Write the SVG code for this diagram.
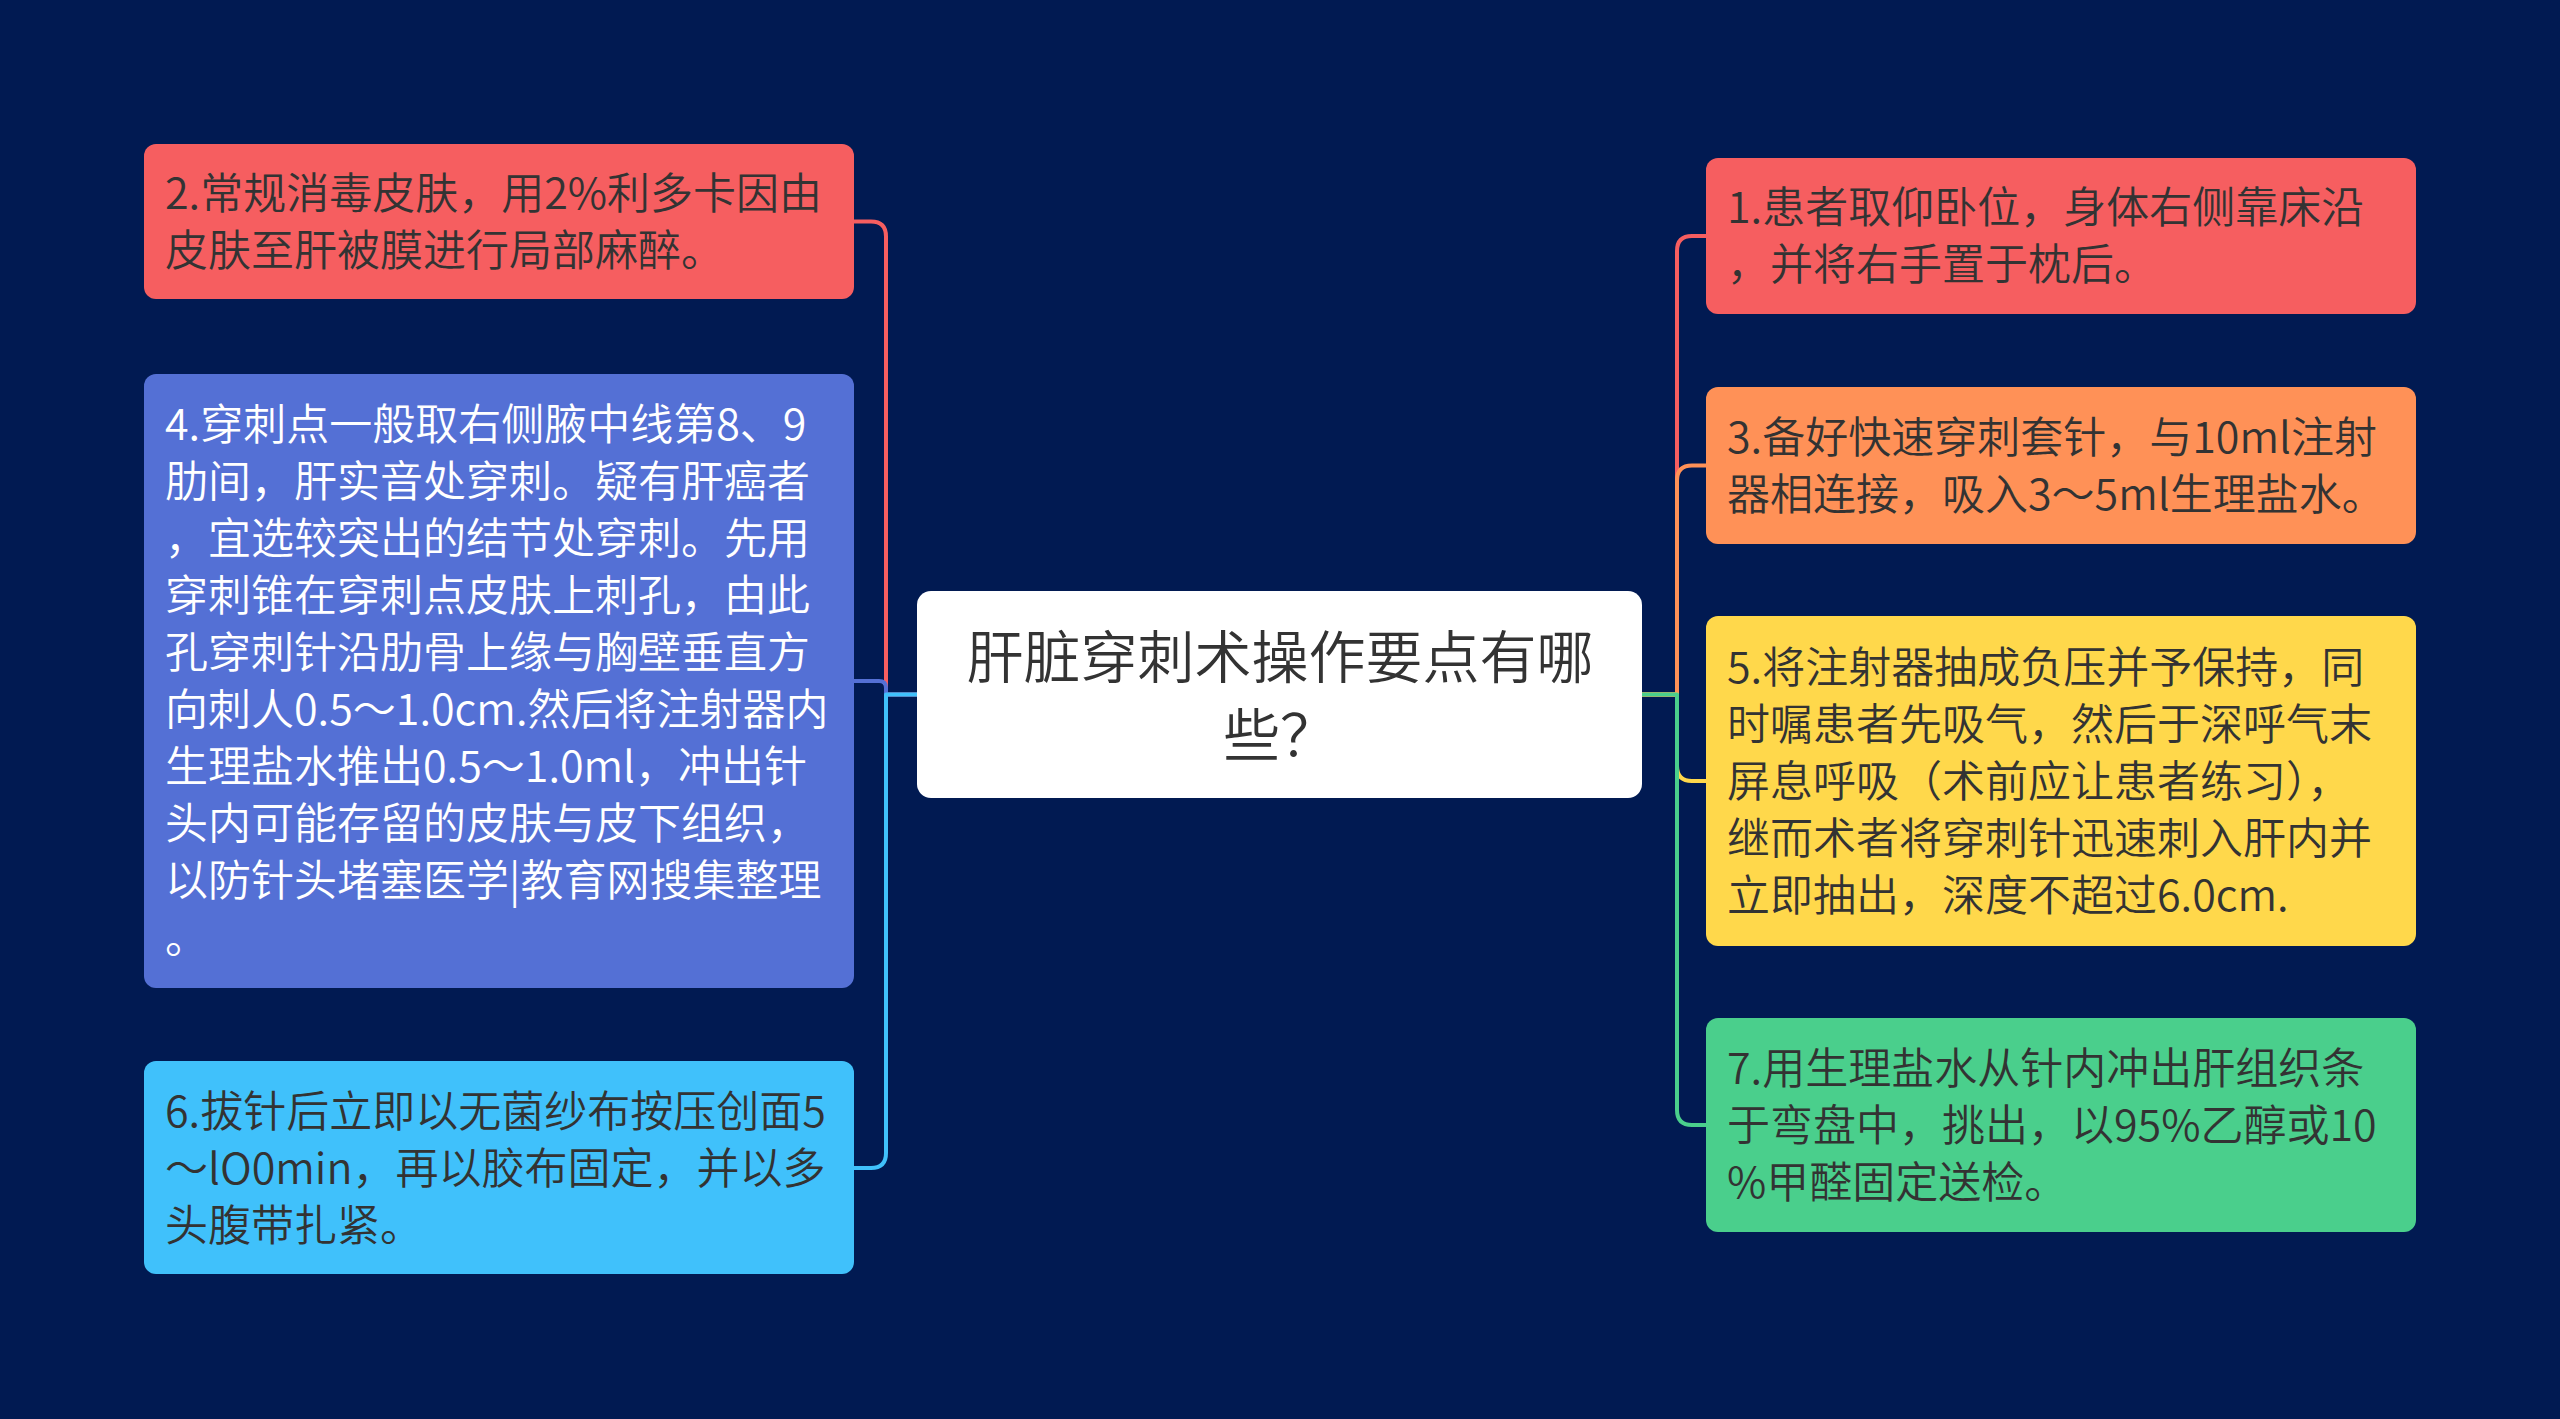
<svg xmlns="http://www.w3.org/2000/svg" width="2560" height="1419" viewBox="0 0 2560 1419">
<style>
.t{font-family:"Noto Sans CJK SC","Noto Sans",sans-serif;font-size:43px;font-weight:350;fill:#333333}
.w{fill:#ffffff}
.c{font-family:"Noto Sans CJK SC","Noto Sans",sans-serif;font-size:57px;font-weight:350;fill:#333333;text-anchor:middle}
.ln{fill:none;stroke-width:4;stroke-linecap:round;stroke-linejoin:round}
</style>
<rect x="0" y="0" width="2560" height="1419" fill="#011a52"/>
<g id="connectors">
<path class="ln" stroke="#f65e60" d="M917,694.5 H886 V236.5 Q886,221.5 871,221.5 H854"/>
<path class="ln" stroke="#5470d5" d="M917,694.5 H886 V688 Q886,681 879,681 H854"/>
<path class="ln" stroke="#40c1fb" d="M917,694.5 H886 V1153 Q886,1168 871,1168 H854"/>
<path class="ln" stroke="#f65e60" d="M1642,694.5 H1677 V251 Q1677,236 1692,236 H1706"/>
<path class="ln" stroke="#ff9157" d="M1642,694.5 H1677 V480.5 Q1677,465.5 1692,465.5 H1706"/>
<path class="ln" stroke="#ffd84b" d="M1642,694.5 H1677 V766 Q1677,781 1692,781 H1706"/>
<path class="ln" stroke="#4acf8c" d="M1642,694.5 H1677 V1110 Q1677,1125 1692,1125 H1706"/>
</g>
<g id="center">
<rect x="917" y="591" width="725" height="207" rx="14" fill="#ffffff"/>
<text class="c" x="1280" y="678">肝脏穿刺术操作要点有哪</text>
<text class="c" x="1280" y="756">些？</text>
</g>
<g id="node2">
<rect x="144" y="144" width="710" height="155" rx="12" fill="#f65e60"/>
<text class="t" x="165" y="209">2.常规消毒皮肤，用2%利多卡因由</text>
<text class="t" x="165" y="266">皮肤至肝被膜进行局部麻醉。</text>
</g>
<g id="node4">
<rect x="144" y="374" width="710" height="614" rx="12" fill="#5470d5"/>
<text class="t w" x="165" y="440">4.穿刺点一般取右侧腋中线第8、9</text>
<text class="t w" x="165" y="497">肋间，肝实音处穿刺。疑有肝癌者</text>
<text class="t w" x="165" y="554">，宜选较突出的结节处穿刺。先用</text>
<text class="t w" x="165" y="611">穿刺锥在穿刺点皮肤上刺孔，由此</text>
<text class="t w" x="165" y="668">孔穿刺针沿肋骨上缘与胸壁垂直方</text>
<text class="t w" x="165" y="725">向刺人0.5～1.0cm.然后将注射器内</text>
<text class="t w" x="165" y="782">生理盐水推出0.5～1.0ml，冲出针</text>
<text class="t w" x="165" y="839">头内可能存留的皮肤与皮下组织，</text>
<text class="t w" x="165" y="896">以防针头堵塞医学|教育网搜集整理</text>
<text class="t w" x="165" y="953">。</text>
</g>
<g id="node6">
<rect x="144" y="1061" width="710" height="213" rx="12" fill="#40c1fb"/>
<text class="t" x="165" y="1127">6.拔针后立即以无菌纱布按压创面5</text>
<text class="t" x="165" y="1184">～lO0min，再以胶布固定，并以多</text>
<text class="t" x="165" y="1241">头腹带扎紧。</text>
</g>
<g id="node1">
<rect x="1706" y="158" width="710" height="156" rx="12" fill="#f65e60"/>
<text class="t" x="1727" y="223">1.患者取仰卧位，身体右侧靠床沿</text>
<text class="t" x="1727" y="280">，并将右手置于枕后。</text>
</g>
<g id="node3">
<rect x="1706" y="387" width="710" height="157" rx="12" fill="#ff9157"/>
<text class="t" x="1727" y="453">3.备好快速穿刺套针，与10ml注射</text>
<text class="t" x="1727" y="510">器相连接，吸入3～5ml生理盐水。</text>
</g>
<g id="node5">
<rect x="1706" y="616" width="710" height="330" rx="12" fill="#ffd84b"/>
<text class="t" x="1727" y="683">5.将注射器抽成负压并予保持，同</text>
<text class="t" x="1727" y="740">时嘱患者先吸气，然后于深呼气末</text>
<text class="t" x="1727" y="797">屏息呼吸（术前应让患者练习），</text>
<text class="t" x="1727" y="854">继而术者将穿刺针迅速刺入肝内并</text>
<text class="t" x="1727" y="911">立即抽出，深度不超过6.0cm.</text>
</g>
<g id="node7">
<rect x="1706" y="1018" width="710" height="214" rx="12" fill="#4acf8c"/>
<text class="t" x="1727" y="1084">7.用生理盐水从针内冲出肝组织条</text>
<text class="t" x="1727" y="1141">于弯盘中，挑出，以95%乙醇或10</text>
<text class="t" x="1727" y="1198">%甲醛固定送检。</text>
</g>
</svg>
